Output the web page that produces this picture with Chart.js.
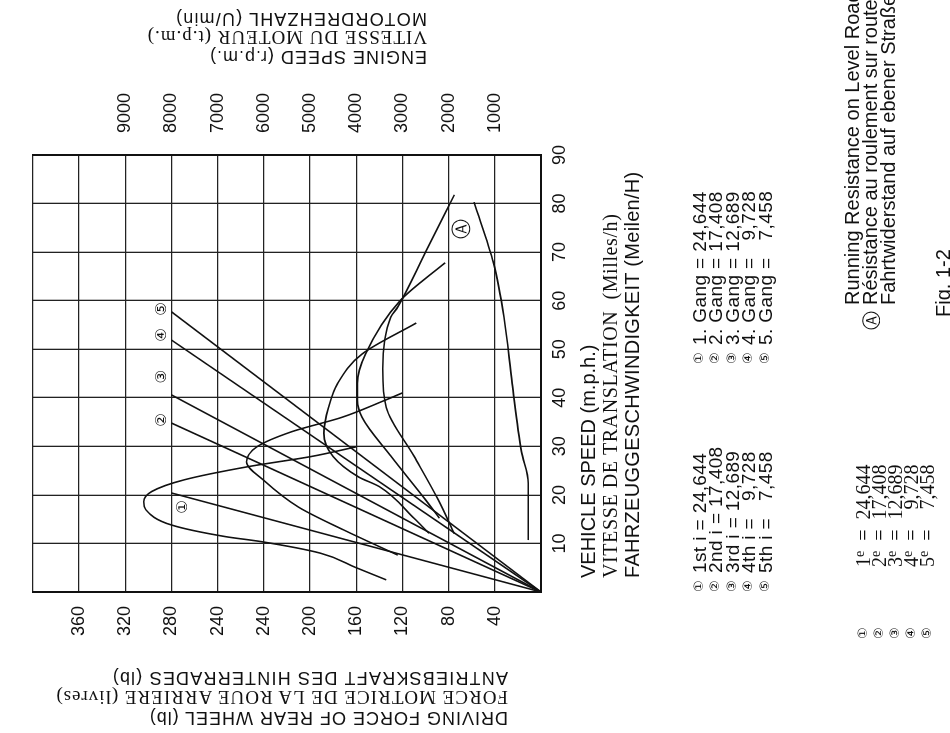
<!DOCTYPE html>
<html>
<head>
<meta charset="utf-8">
<script src="https://cdn.jsdelivr.net/npm/chart.js@4.4.1/dist/chart.umd.min.js"></script>
<style>
html, body { margin: 0; padding: 0; background: #fff; overflow: hidden; }
#page {
    position: absolute; left: 0; top: 0; width: 733px; height: 950px;
    transform-origin: 0 0; transform: translate(0, 733px) rotate(-90deg);
    overflow: hidden; background: #fff; color: #111;
}
#page canvas { position: absolute; left: 0; top: 0; }
.t { position: absolute; white-space: pre; line-height: 1; }
.sans { font-family: "Liberation Sans", Arial, sans-serif; }
.serif { font-family: "Liberation Serif", "Times New Roman", serif; }
.circ { font-family: "DejaVu Sans", sans-serif; }
.rot { transform-origin: 0 0; transform: rotate(-90deg); }
sup { font-size: 70%; vertical-align: 0.45em; line-height: 0; }
</style>
</head>
<body>
<div id="page">
    <canvas id="chart" width="733" height="950"></canvas>

    <!-- left axis title (reads bottom to top) -->
    <div class="t sans rot" style="left:6px;top:508px;font-size:18px;letter-spacing:1px">DRIVING FORCE OF REAR WHEEL (lb)</div>
    <div class="t serif rot" style="left:26px;top:508px;font-size:19px;letter-spacing:1px">FORCE MOTRICE DE LA ROUE ARRIERE (livres)</div>
    <div class="t sans rot" style="left:46px;top:508px;font-size:18px;letter-spacing:1.2px">ANTRIEBSKRAFT DES HINTERRADES (lb)</div>

    <!-- right axis title -->
    <div class="t sans rot" style="left:667px;top:427px;font-size:18px;letter-spacing:1px">ENGINE SPEED (r.p.m.)</div>
    <div class="t serif rot" style="left:686px;top:427px;font-size:19px;letter-spacing:1px">VITESSE DU MOTEUR (t.p.m.)</div>
    <div class="t sans rot" style="left:705px;top:427px;font-size:18px;letter-spacing:1.2px">MOTORDREHZAHL (U/min)</div>

    <!-- bottom axis title -->
    <div class="t sans" style="left:155px;top:578px;font-size:20px">VEHICLE SPEED (m.p.h.)</div>
    <div class="t serif" style="left:155px;top:600px;font-size:20px;letter-spacing:0.6px">VITESSE DE TRANSLATION  (Milles/h)</div>
    <div class="t sans" style="left:155px;top:622px;font-size:20px;letter-spacing:0.3px">FAHRZEUGGESCHWINDIGKEIT (Meilen/H)</div>

    <div id="legend"></div>
</div>

<script>
// vehicle speed axis (m.p.h.) and force axis (lb), as printed
const speedLabels = ['', '10', '20', '30', '40', '50', '60', '70', '80', '90'];
const forceLabels = ['', '40', '80', '120', '160', '200', '240', '240', '280', '320', '360', ''];
const rpmLabels = ['', '1000', '2000', '3000', '4000', '5000', '6000', '7000', '8000', '9000', '', ''];

// driving force curves for each gear: [speed mph, force lb]
const gear1 = [[2.5, 134], [5, 160], [8, 191], [10.4, 243], [11.4, 273], [13.8, 320], [16.9, 342],
    [18.6, 344], [20.7, 337], [23.1, 309], [25.8, 254], [27.9, 199], [29.9, 160]];
const gear2 = [[7.6, 124], [12.8, 171], [17.5, 210], [23, 240], [26.8, 255], [29.9, 246], [33, 216],
    [36, 172], [39.5, 135], [41, 120]];
const gear3 = [[12.1, 97], [15.2, 110], [21.7, 140], [23.7, 158], [27.9, 180], [32.7, 188], [38, 184],
    [43, 176], [49, 155], [55.4, 108]];
const gear4 = [[15.2, 88], [19, 100], [28, 130], [36, 155], [39.5, 159], [43, 159], [49, 152],
    [60, 122], [67.8, 83]];
const gear5 = [[12, 75], [19, 89], [28, 110], [38, 134], [46, 137], [56.6, 130], [58.7, 124],
    [70, 100], [81.8, 75]];

// running resistance on level road (A)
const resistance = [[10.7, 11], [15, 11], [22.4, 11], [29, 17], [43, 25], [56.6, 32], [67.7, 41], [80.3, 58]];

// engine speed lines: speed at the end of each line, and the rpm there
const rpmLineEnd = [20.4, 34.8, 40.6, 51.9, 57.7];
const rpmLineTop = [8000, 8000, 8000, 8000, 8000];

// where the circled numbers sit (speed, rpm)
const markSpeed = [17.5, 35.4, 44.3, 52.9, 58.3];
const markRpm = [7750, 8200, 8200, 8200, 8200];
const marks = ['\u2460', '\u2461', '\u2462', '\u2463', '\u2464'];

// legend text
const gearEn = ['1st i = 24,644', '2nd i = 17,408', '3rd i = 12,689', '4th i =   9,728', '5th i =   7,458'];
const gearDe = ['1. Gang = 24,644', '2. Gang = 17,408', '3. Gang = 12,689', '4. Gang =   9,728', '5. Gang =   7,458'];
const gearFr = ['1<sup>e</sup>  =  24,644', '2<sup>e</sup>  =  17,408', '3<sup>e</sup>  =  12,689',
    '4<sup>e</sup>  =    9,728', '5<sup>e</sup>  =    7,458'];
const resistText = ['Running Resistance on Level Road', 'R\u00e9sistance au roulement sur route',
    'Fahrtwiderstand auf ebener Stra\u00dfe'];

function pts(arr) {
    return arr.map(p => ({x: p[0], y: p[1]}));
}

function line(data, axis) {
    return {
        data: data,
        yAxisID: axis,
        borderColor: '#111',
        borderWidth: 1.6,
        pointRadius: 0,
        fill: false,
        cubicInterpolationMode: 'monotone',
    };
}

let datasets = [];
for (let g of [gear1, gear2, gear3, gear4, gear5]) {
    datasets.push(line(pts(g), 'force'));
}
datasets.push(line(pts(resistance), 'force'));
for (let i = 0; i < rpmLineEnd.length; i++) {
    datasets.push(line([{x: 0, y: 0}, {x: rpmLineEnd[i], y: rpmLineTop[i]}], 'rpm'));
}

const tickFont = {family: '"Liberation Sans", Arial, sans-serif', size: 18};

const markPlugin = {
    id: 'marks',
    afterDatasetsDraw(chart) {
        const ctx = chart.ctx;
        const x = chart.scales.x;
        const rpm = chart.scales.rpm;
        const force = chart.scales.force;
        ctx.save();
        ctx.fillStyle = '#111';
        ctx.textAlign = 'center';
        ctx.textBaseline = 'middle';
        ctx.font = '15px "DejaVu Sans", sans-serif';
        for (let i = 0; i < marks.length; i++) {
            ctx.fillText(marks[i], x.getPixelForValue(markSpeed[i]), rpm.getPixelForValue(markRpm[i]));
        }
        // (A) beside the resistance curve
        let last = resistance[resistance.length - 2];
        ctx.font = '20px "DejaVu Sans", sans-serif';
        ctx.fillText('\u24b6', x.getPixelForValue(last[0] + 7), force.getPixelForValue(last[1] + 27));
        ctx.restore();
    },
};

new Chart(document.getElementById('chart'), {
    type: 'line',
    data: {datasets: datasets},
    options: {
        responsive: false,
        animation: false,
        devicePixelRatio: 1,
        layout: {padding: {top: 9, left: 0, right: 0, bottom: 0}},
        plugins: {legend: {display: false}, tooltip: {enabled: false}},
        scales: {
            x: {
                type: 'linear', min: 0, max: 90,
                ticks: {stepSize: 10, padding: 8, color: '#111', font: tickFont, maxRotation: 0,
                    callback: (v, i) => speedLabels[i]},
                grid: {color: '#222', lineWidth: 1.3, drawTicks: false},
                border: {color: '#111', width: 2},
                afterFit: s => { s.height = 409; },
            },
            force: {
                type: 'linear', position: 'left', min: 0, max: 440,
                ticks: {stepSize: 40, padding: 14, color: '#111', font: tickFont,
                    callback: (v, i) => forceLabels[i]},
                grid: {color: '#222', lineWidth: 1.3, drawTicks: false},
                border: {color: '#111', width: 2},
                afterFit: s => { s.width = 141; },
            },
            rpm: {
                type: 'linear', position: 'right', min: 0, max: 11000,
                ticks: {stepSize: 1000, padding: 22, color: '#111', font: tickFont,
                    callback: (v, i) => rpmLabels[i]},
                grid: {display: false, drawTicks: false},
                border: {color: '#111', width: 2},
                afterFit: s => { s.width = 155; },
            },
        },
    },
    plugins: [markPlugin],
});

// legend block under the speed title
const legend = document.getElementById('legend');
function put(html, cls, u, v, size, extra) {
    let d = document.createElement('div');
    d.className = 't ' + cls;
    d.style.left = u + 'px';
    d.style.top = (v - size / 2) + 'px';
    d.style.fontSize = size + 'px';
    if (extra) d.style.cssText += extra;
    d.innerHTML = html;
    legend.appendChild(d);
    return d;
}
for (let i = 0; i < 5; i++) {
    let v = 698 + i * 16.5;
    put(marks[i], 'circ', 141, v, 13);
    put(gearEn[i], 'sans', 160, v + 1, 19, 'letter-spacing:0.4px');
    put(marks[i], 'circ', 369, v, 13);
    put(gearDe[i], 'sans', 388, v + 1, 19, 'letter-spacing:0.4px');
}
for (let i = 0; i < 5; i++) {
    let v = 862 + i * 16;
    put(marks[i], 'circ', 94, v, 13);
    put(gearFr[i], 'serif', 166, v + 1, 20);
}
for (let i = 0; i < 3; i++) {
    put(resistText[i], 'sans', 428, 852 + i * 18, 20);
}
put('\u24b6', 'circ', 403, 871, 19);
put('Fig. 1-2', 'sans', 416, 943, 20);
</script>
</body>
</html>
